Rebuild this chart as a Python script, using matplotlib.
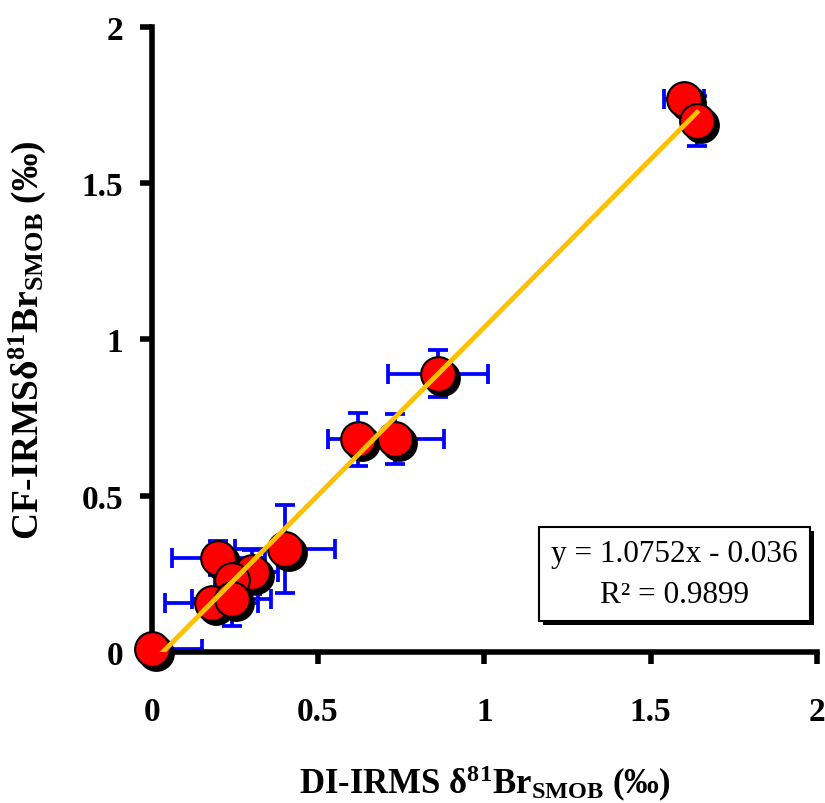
import matplotlib.pyplot as plt
import matplotlib.patheffects as pe
from matplotlib.transforms import offset_copy
import numpy as np

plt.rcParams['font.family'] = ['Liberation Serif', 'DejaVu Serif']
plt.rcParams['mathtext.fontset'] = 'custom'
plt.rcParams['mathtext.rm'] = 'Liberation Serif:bold'
plt.rcParams['mathtext.bf'] = 'Liberation Serif:bold'
plt.rcParams['mathtext.it'] = 'Liberation Serif:bold'

# DI-IRMS vs CF-IRMS delta81Br values (per mil)
di_irms = [0.00, 0.20, 0.30, 0.24, 0.18, 0.24, 0.40, 0.62, 0.73, 0.86, 1.60, 1.64]
cf_irms = [0.01, 0.30, 0.255, 0.23, 0.155, 0.17, 0.33, 0.68, 0.68, 0.89, 1.77, 1.70]
di_err = [0.15, 0.14, 0.08, 0.05, 0.14, 0.12, 0.15, 0.09, 0.15, 0.15, 0.06, 0.03]
cf_err = [0.01, 0.055, 0.07, 0.05, 0.04, 0.087, 0.14, 0.085, 0.08, 0.075, 0.02, 0.08]

slope = 1.0752
intercept = -0.036
r2 = 0.9899

fig = plt.figure(figsize=(8.25, 8.04), dpi=100)
ax = fig.add_axes([0.184, 0.188, 0.806, 0.777])

ax.errorbar(di_irms, cf_irms, xerr=di_err, yerr=cf_err, fmt='none',
            ecolor='#0000ff', elinewidth=2.7, capsize=7, capthick=2.7,
            zorder=2, clip_on=True)

# black drop shadow under each marker
shadow = offset_copy(ax.transData, fig=fig, x=4, y=-4, units='dots')
ax.plot(di_irms, cf_irms, 'o', ms=25, mfc='black', mec='black', mew=1.5,
        zorder=3, clip_on=False, transform=shadow)
ax.plot(di_irms, cf_irms, 'o', ms=25, mfc='#ff0000', mec='black', mew=1.5,
        zorder=3, clip_on=False)

xs = np.array([min(di_irms), max(di_irms)])
ax.plot(xs, slope * xs + intercept, color='#ffc000', lw=3.5, zorder=4)

ax.set_xlim(0, 2)
ax.set_ylim(0, 2)
ax.set_xticks([0, 0.5, 1, 1.5, 2])
ax.set_yticks([0, 0.5, 1, 1.5, 2])
ax.set_xticklabels(['0', '0.5', '1', '1.5', '2'])
ax.set_yticklabels(['0', '0.5', '1', '1.5', '2'])
for s in ['top', 'right']:
    ax.spines[s].set_visible(False)
for s in ['left', 'bottom']:
    ax.spines[s].set_linewidth(4)
ax.tick_params(width=4, length=8.5, labelsize=24)
ax.tick_params(axis='x', pad=23)
ax.tick_params(axis='y', pad=12)
for lab in ax.get_xticklabels() + ax.get_yticklabels():
    lab.set_fontweight('bold')

ax.set_xlabel(r'DI-IRMS δ$^{\mathrm{81}}$Br$_{\mathrm{SMOB}}$ (‰)', fontsize=25,
              fontweight='bold', labelpad=26)
ax.set_ylabel(r'CF-IRMSδ$^{\mathrm{81}}$Br$_{\mathrm{SMOB}}$ (‰)', fontsize=27,
              fontweight='bold', labelpad=24)

t = ax.text(0.786, 0.125, 'y = %.4fx - %.3f\nR² = %.4f' % (slope, -intercept, r2),
            transform=ax.transAxes, ha='center', va='center', fontsize=22.5,
            multialignment='center', linespacing=1.55,
            bbox=dict(boxstyle='square,pad=0.38', fc='white', ec='black', lw=1.5))
t.get_bbox_patch().set_path_effects(
    [pe.withSimplePatchShadow(offset=(3, -3), shadow_rgbFace='black', alpha=1)])

plt.savefig('out.png', dpi=100)
